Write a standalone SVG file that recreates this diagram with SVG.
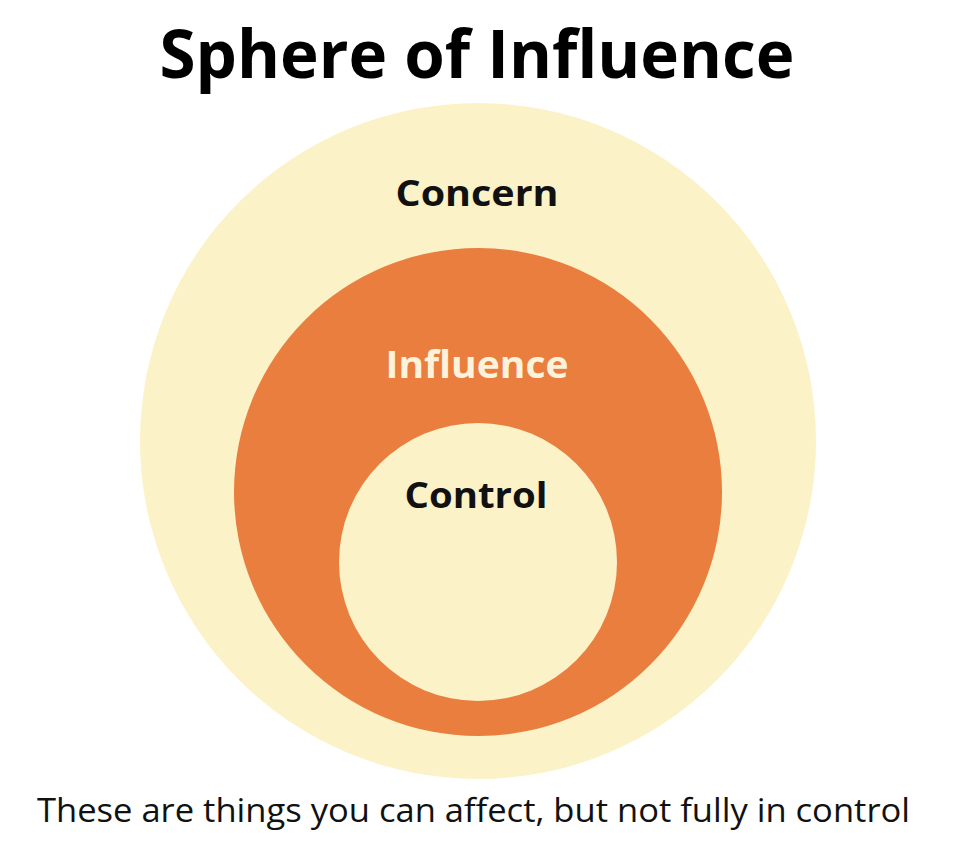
<svg xmlns="http://www.w3.org/2000/svg" width="956" height="850" viewBox="0 0 956 850">
<style>
.t{font-family:"Open Sans","Liberation Sans",sans-serif;font-weight:bold;text-anchor:middle}
.sub{font-family:"Open Sans","Liberation Sans",sans-serif;font-weight:normal}
</style>
<rect width="956" height="850" fill="#ffffff"/>
<text class="t" x="477" y="78" font-size="66" fill="#000" textLength="635" lengthAdjust="spacingAndGlyphs">Sphere of Influence</text>
<g id="concern">
<circle cx="478" cy="441" r="338" fill="#FCF2C8"/>
<text class="t" x="477" y="206" font-size="36" fill="#111" textLength="163" lengthAdjust="spacingAndGlyphs">Concern</text>
</g>
<g id="influence">
<circle cx="478" cy="492" r="244" fill="#E97E3E"/>
<text class="t" x="477" y="378" font-size="37" fill="#FDF3DC" textLength="183" lengthAdjust="spacingAndGlyphs">Influence</text>
</g>
<g id="control">
<circle cx="478" cy="562" r="139" fill="#FCF2C8"/>
<text class="t" x="476" y="508" font-size="35" fill="#111" textLength="143" lengthAdjust="spacingAndGlyphs">Control</text>
</g>
<g id="connectors"></g>
<text class="sub" x="37" y="822" font-size="33" fill="#111" textLength="873" lengthAdjust="spacingAndGlyphs">These are things you can affect, but not fully in control</text>
</svg>
